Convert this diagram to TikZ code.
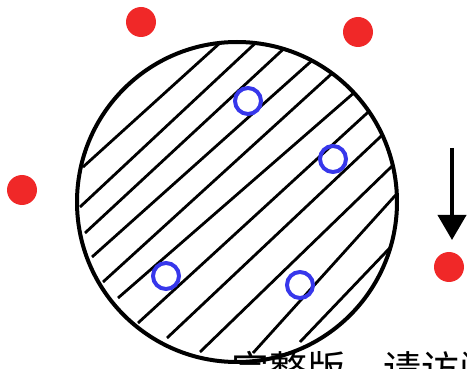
\documentclass[tikz,border=0pt]{standalone}
\usepackage{fontspec}
\newfontfamily\cjk{Noto Sans CJK SC}
\usetikzlibrary{arrows.meta,calc}
\definecolor{dotred}{RGB}{240,40,40}
\definecolor{ringblue}{RGB}{55,55,235}
\tikzset{
  reddot/.style={circle, fill=dotred, draw=none, minimum size=15pt, inner sep=0pt},
  bluering/.style={circle, draw=ringblue, line width=2pt, minimum size=13pt, inner sep=0pt},
  bigcircle/.style={circle, draw=black, line width=2pt, minimum size=320\pgfkeysvalueof{/tikz/x}, inner sep=0pt},
  hatch/.style={line width=1.4pt, black},
  downarrow/.style={line width=2pt, -{Triangle[width=14pt,length=12.5pt]}},
  caption/.style={anchor=base west, inner sep=0pt, font=\cjk\fontsize{19pt}{19pt}\selectfont}
}
\begin{document}
\begin{tikzpicture}[x=0.5pt, y=-0.5pt]
\useasboundingbox (0,0) rectangle (467,369);
% caption (cut off by the page edge)
\node[caption] (txt) at (231,384) {完整版，请访问};
% hatching inside the circle
\begin{scope}
  \clip (237,202) circle[radius=80pt];
  \foreach \sx/\sy/\ex/\ey in {
      83/167/210/52, 80/207/248/50, 85/233/277/55, 92/257/307/65,
      103/282/327/78, 118/298/348/98, 138/323/365/115, 167/338/377/140,
      200/352/388/170, 253/353/393/198, 300/342/385/253}{
    \draw[hatch] (\sx,\sy) -- ($(\sx,\sy)!1.12!(\ex,\ey)$);
  }
\end{scope}
% main circle
\node[bigcircle, minimum size=160pt] (big) at (237,202) {};
% blue rings
\node[bluering] (b1) at (248,101) {};
\node[bluering] (b2) at (333,159) {};
\node[bluering] (b3) at (166,276) {};
\node[bluering] (b4) at (300,285) {};
% red dots
\node[reddot] (r1) at (141,22) {};
\node[reddot] (r2) at (358,32) {};
\node[reddot] (r3) at (22,190) {};
\node[reddot] (r4) at (449,267) {};
% arrow
\coordinate (atop) at (452,148);
\coordinate (atip) at (452,240);
\draw[downarrow] (atop) -- (atip);
\end{tikzpicture}
\end{document}
